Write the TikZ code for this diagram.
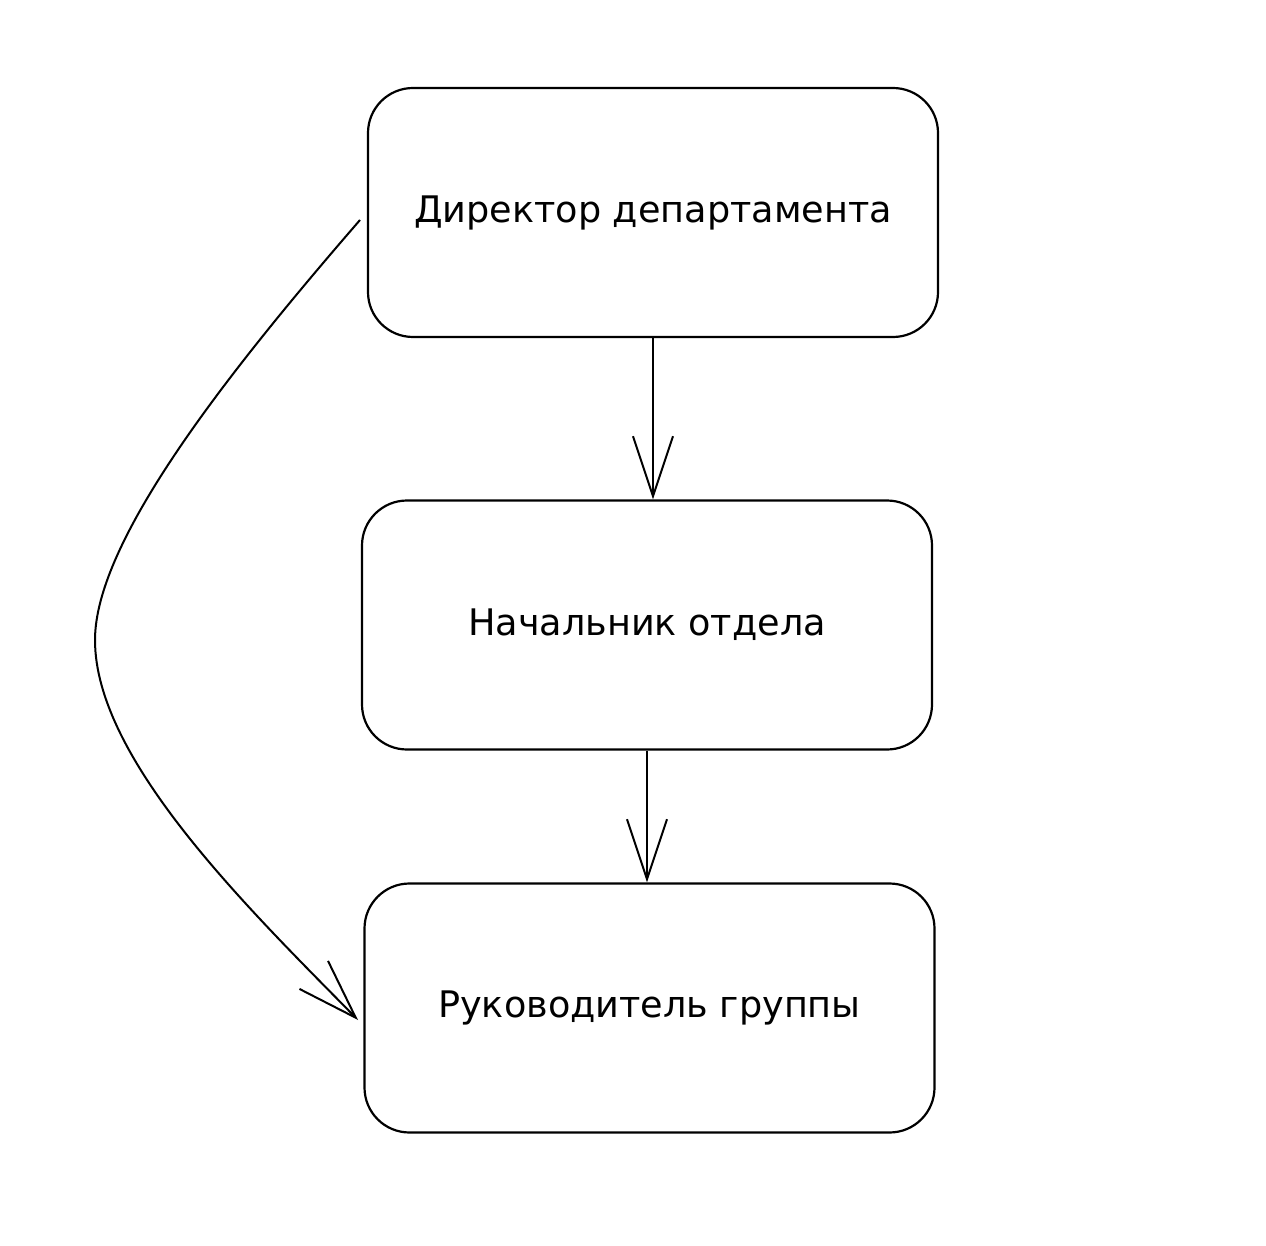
\documentclass[tikz,border=0pt]{standalone}
\usepackage{fontspec}
\setmainfont{DejaVu Sans}
\usetikzlibrary{arrows.meta}
\begin{document}
\begin{tikzpicture}[x=1pt,y=-1pt,
  box/.style={draw=black, line width=2.2pt, rounded corners=45pt,
    minimum width=570pt, minimum height=249pt, inner sep=0pt,
    font=\fontsize{36.6}{40}\selectfont},
  arr/.style={draw=black, line width=2pt,
    -{Straight Barb[length=60pt,width=40pt,line width=2pt]}}]
\useasboundingbox (0,0) rectangle (1266,1246);
\fill[white] (0,0) rectangle (1266,1246);
\node[box] (d) at (653,212.5) {Директор департамента};
\node[box] (n) at (647,625) {Начальник отдела};
\node[box] (r) at (649.5,1008) {Руководитель группы};
\coordinate (cs) at (360,220);
\coordinate (ce) at (358,1020);
\draw[arr] (d.south) -- (d.south |- n.north);
\draw[arr] (n.south) -- (n.south |- r.north);
\draw[arr] (cs) .. controls (230,370) and (95,540) .. (95,640)
  .. controls (95,760) and (250,910) .. (ce);
\end{tikzpicture}
\end{document}
